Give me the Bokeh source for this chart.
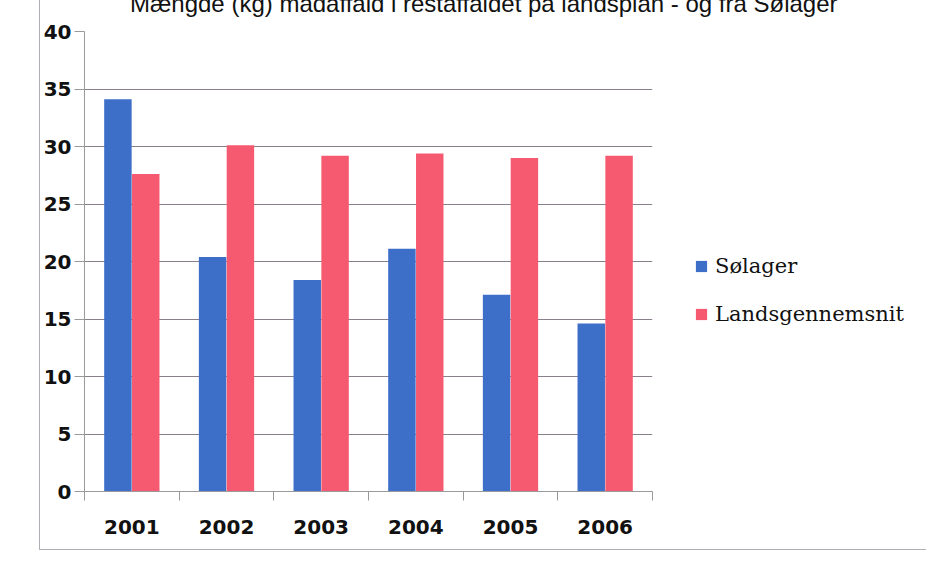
from bokeh.plotting import figure
from bokeh.models import (ColumnDataSource, FixedTicker, Legend, LegendItem, Title,
                          Range1d)
from bokeh.transform import dodge
from bokeh.embed import file_html
from bokeh.resources import INLINE

years = ["2001", "2002", "2003", "2004", "2005", "2006"]
solager = [34.1, 20.4, 18.4, 21.1, 17.1, 14.6]
landsgennemsnit = [27.6, 30.1, 29.2, 29.4, 29.0, 29.2]
y_ticks = [0, 5, 10, 15, 20, 25, 30, 35, 40]
title_text = "Mængde (kg) madaffald i restaffaldet på landsplan - og fra Sølager"

BLUE = "#3d6ec8"
PINK = "#f65a70"
GRID = "#8a7f8c"
AXIS = "#9a9a9a"

xpos = [i + 0.5 for i in range(len(years))]
src = ColumnDataSource(dict(x=xpos, year=years, s=solager, l=landsgennemsnit))

p = figure(width=872, height=584, output_backend="svg", toolbar_location=None,
           x_range=Range1d(0, len(years)), y_range=Range1d(0, 40),
           frame_width=568, frame_height=460,
           min_border_left=44, min_border_top=66, min_border_right=260,
           min_border_bottom=58, margin=(-35, 0, 0, 39),
           styles={"border-left": "1px solid #b3adb5",
                   "border-bottom": "1px solid #b3adb5"})
p.background_fill_color = "white"
p.border_fill_color = "white"
p.outline_line_color = None

r1 = p.vbar(x=dodge("x", -0.147, range=p.x_range), top="s", width=0.29, bottom=0,
            source=src, fill_color=BLUE, line_color=None)
r2 = p.vbar(x=dodge("x", 0.147, range=p.x_range), top="l", width=0.29, bottom=0,
            source=src, fill_color=PINK, line_color=None)

# x axis: labels at category centres, minor ticks at category boundaries
p.xaxis.ticker = FixedTicker(ticks=xpos, minor_ticks=list(range(len(years) + 1)))
p.xaxis.major_label_overrides = {x: y for x, y in zip(xpos, years)}
p.xaxis.major_tick_line_color = None
p.xaxis.major_tick_out = 0
p.xaxis.minor_tick_line_color = AXIS
p.xaxis.minor_tick_out = 9
p.xaxis.minor_tick_in = 0
p.xaxis.axis_line_color = AXIS
p.xaxis.major_label_standoff = 19
p.xaxis.major_label_text_font = "DejaVu Sans"
p.xaxis.major_label_text_font_style = "bold"
p.xaxis.major_label_text_font_size = "20px"
p.xaxis.major_label_text_color = "#111111"
p.xgrid.grid_line_color = None

p.yaxis.ticker = FixedTicker(ticks=y_ticks)
p.yaxis.minor_tick_line_color = None
p.yaxis.major_tick_out = 10
p.yaxis.major_tick_in = 0
p.yaxis.major_tick_line_color = AXIS
p.yaxis.axis_line_color = AXIS
p.yaxis.major_label_standoff = 3
p.yaxis.major_label_text_font = "DejaVu Sans"
p.yaxis.major_label_text_font_style = "bold"
p.yaxis.major_label_text_font_size = "20px"
p.yaxis.major_label_text_color = "#111111"
p.ygrid.grid_line_color = GRID
p.ygrid.grid_line_width = 1

legend = Legend(items=[LegendItem(label="Sølager", renderers=[r1]),
                       LegendItem(label="Landsgennemsnit", renderers=[r2])],
                location=(42, 165), orientation="vertical")
legend.border_line_color = None
legend.background_fill_alpha = 0
legend.padding = 0
legend.margin = 0
legend.spacing = 24
legend.glyph_width = 14
legend.glyph_height = 14
legend.label_height = 24
legend.label_standoff = 7
legend.label_text_font = "DejaVu Serif"
legend.label_text_font_size = "21px"
legend.label_text_color = "#111111"
p.add_layout(legend, "right")

p.add_layout(Title(text=title_text, align="right", offset=-185, standoff=30,
                   text_font="Liberation Sans", text_font_size="24px",
                   text_font_style="normal", text_color="#111111"), "above")

open("out.html", "w").write(file_html(p, INLINE))
